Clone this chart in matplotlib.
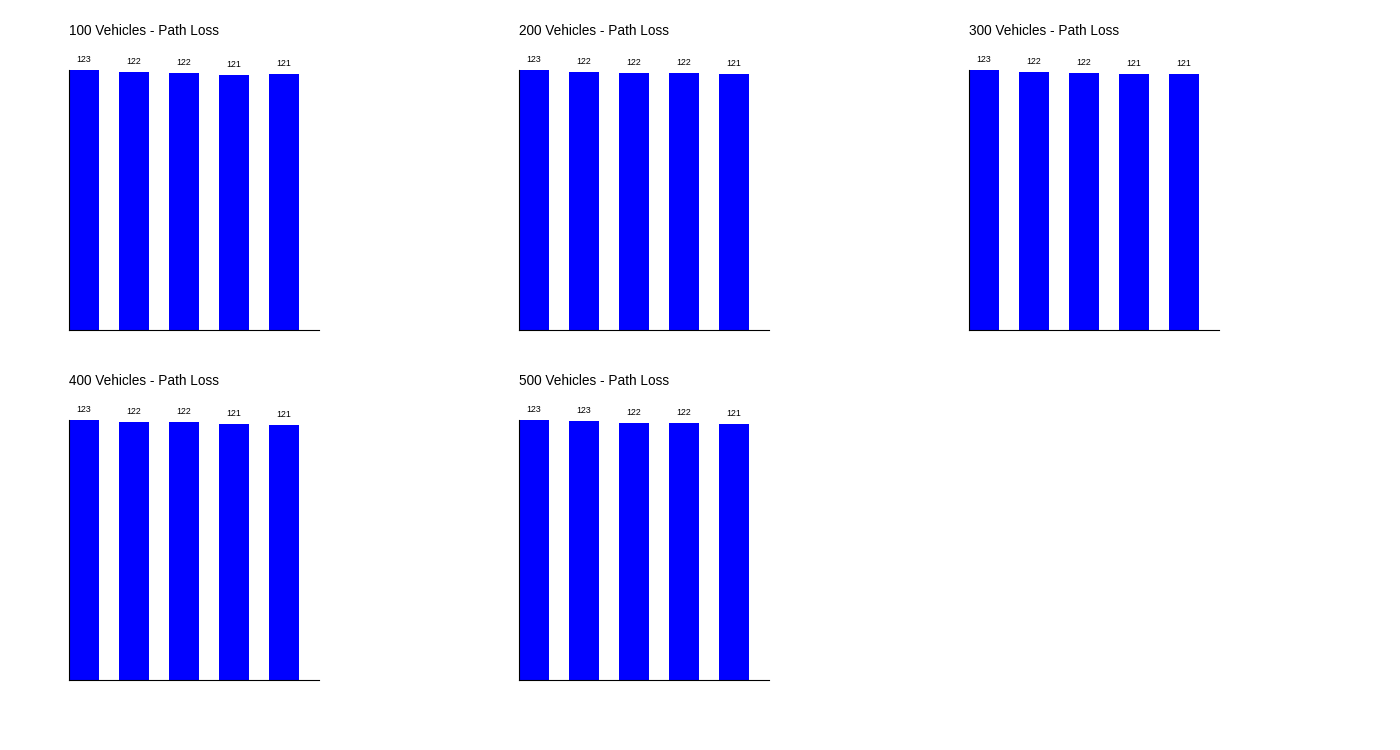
import matplotlib.pyplot as plt

plt.rcParams['font.family'] = ['Liberation Sans', 'DejaVu Sans']

# Path loss (dB) per vehicle count, five runs each
vehicle_counts = [100, 200, 300, 400, 500]
loss_100 = [123.2, 122.25, 121.8, 120.8, 121.3]
loss_200 = [123.2, 122.25, 121.8, 121.8, 121.3]
loss_300 = [123.2, 122.25, 121.8, 121.3, 121.3]
loss_400 = [123.2, 122.25, 122.25, 121.3, 120.8]
loss_500 = [123.2, 122.7, 121.8, 121.8, 121.3]
all_losses = [loss_100, loss_200, loss_300, loss_400, loss_500]

fig, axes = plt.subplots(2, 3, figsize=(14, 7.5), dpi=100)
fig.subplots_adjust(left=0.0493, right=0.8707, top=0.9067, bottom=0.0933,
                    wspace=0.8, hspace=0.346)
axes = axes.flatten()

for ax, count, losses in zip(axes, vehicle_counts, all_losses):
    xs = range(len(losses))
    bars = ax.bar(xs, losses, width=0.6, color='blue')
    for b, v in zip(bars, losses):
        ax.annotate(f'{v:.0f}', (b.get_x() + b.get_width() / 2, b.get_height()),
                    xytext=(0, 4.5), textcoords='offset points',
                    ha='center', va='bottom', fontsize=6.3, annotation_clip=False)
    ax.set_xlim(-0.3, 4.7)
    ax.set_ylim(0, max(losses))
    ax.set_title(f'{count} Vehicles - Path Loss', loc='left', fontsize=9.8, pad=25)
    ax.spines['top'].set_visible(False)
    ax.spines['right'].set_visible(False)
    ax.set_xticks([])
    ax.set_yticks([])

axes[5].axis('off')

fig.savefig('out.png')
